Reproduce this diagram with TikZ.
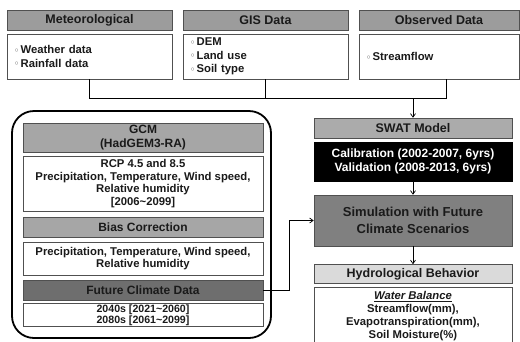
\documentclass[tikz,border=0pt]{standalone}
\usepackage{fontspec}
\setmainfont{Liberation Sans}
\newfontfamily\dejavu{DejaVu Sans}
\usetikzlibrary{arrows.meta}
\definecolor{hgray}{HTML}{9C9C9C}
\definecolor{dgray}{HTML}{6E6E6E}
\definecolor{sgray}{HTML}{808080}
\definecolor{lgray}{HTML}{DADADA}
\definecolor{edge}{HTML}{505050}
\definecolor{txt}{HTML}{1A1A1A}
\newcommand{\bul}{\hspace{3pt}{\dejavu\fontsize{8}{8}\selectfont\color{edge}\raisebox{0.5pt}{◦}}\hspace{1.5pt}}
\begin{document}
\begin{tikzpicture}[x=1pt,y=-1pt,
  every node/.style={text=txt, inner sep=2pt},
  hdr/.style={draw=edge, line width=0.6pt, fill=hgray, font=\fontsize{12.5}{14}\selectfont\bfseries},
  bodyc/.style={draw=edge, line width=0.6pt, fill=white, align=center, font=\fontsize{11.3}{12.8}\selectfont\bfseries},
  bodyl/.style={draw=edge, line width=0.6pt, fill=white, align=left, font=\fontsize{11.3}{13.5}\selectfont\bfseries},
  conn/.style={draw=black, line width=0.7pt},
  arr/.style={conn, -{Straight Barb[length=3.5pt,width=5pt]}}]
\useasboundingbox (0,0) rectangle (520,341);
% top row
\node[hdr, minimum width=165, minimum height=20] (meth) at (89.5,20) {Meteorological};
\node[bodyl, minimum width=165, minimum height=45, text width=157] (metb) at (89.5,56.5) {\bul Weather data\\\bul Rainfall data};
\node[hdr, minimum width=165, minimum height=20] (gish) at (265.5,20) {GIS Data};
\node[bodyl, minimum width=165, minimum height=45, text width=157] (gisb) at (265.5,56.5) {\bul DEM\\\bul Land use\\\bul Soil type};
\node[hdr, minimum width=160, minimum height=20] (obsh) at (439,20) {Observed Data};
\node[bodyl, minimum width=160, minimum height=45, text width=152] (obsb) at (439,56.5) {\bul Streamflow};
% right column
\node[hdr, fill=hgray!85, minimum width=198, minimum height=20] (swath) at (413,128) {SWAT Model};
\node[draw=black, fill=black, text=white, align=center, minimum width=198, minimum height=39, font=\fontsize{12}{14}\selectfont\bfseries] (calib) at (413,161.5) {Calibration (2002-2007, 6yrs)\\Validation (2008-2013, 6yrs)};
\node[hdr, fill=sgray, align=center, minimum width=198, minimum height=51, font=\fontsize{13}{17}\selectfont\bfseries] (sim) at (413,220.5) {Simulation with Future\\Climate Scenarios};
\node[hdr, fill=lgray, minimum width=198, minimum height=19] (hydh) at (413,274) {Hydrological Behavior};
\node[bodyc, minimum width=198, minimum height=58, font=\fontsize{11.3}{13}\selectfont\bfseries] (hydb) at (413,316) {\underline{\textit{Water Balance}}\\Streamflow(mm),\\Evapotranspiration(mm),\\Soil Moisture(\%)};
% left frame
\node[draw=black, line width=1.8pt, rounded corners=22pt, minimum width=259, minimum height=227] (frame) at (141.5,224.5) {};
\node[hdr, fill=hgray!90, align=center, minimum width=240, minimum height=29, font=\fontsize{12}{14}\selectfont\bfseries] (gcmh) at (143,137.5) {GCM\\(HadGEM3-RA)};
\node[bodyc, minimum width=240, minimum height=55] (gcmb) at (143,183.5) {RCP 4.5 and 8.5\\Precipitation, Temperature, Wind speed,\\Relative humidity\\{[}2006\textasciitilde 2099{]}};
\node[hdr, fill=hgray!90, minimum width=240, minimum height=20, font=\fontsize{12}{14}\selectfont\bfseries] (biash) at (143,227) {Bias Correction};
\node[bodyc, minimum width=240, minimum height=33] (biasb) at (143,258.5) {Precipitation, Temperature, Wind speed,\\Relative humidity};
\node[hdr, fill=dgray, minimum width=240, minimum height=20, font=\fontsize{12}{14}\selectfont\bfseries] (futh) at (143,290) {Future Climate Data};
\node[bodyc, inner sep=1pt, minimum width=240, minimum height=23, font=\fontsize{10.6}{10.8}\selectfont\bfseries] (futb) at (143,315) {2040s [2021\textasciitilde 2060]\\2080s [2061\textasciitilde 2099]};
% connectors
\coordinate (j1) at (89,98);
\coordinate (j3) at (446,98);
\coordinate (jm) at (413,98);
\draw[conn] (metb.south -| j1) -- (j1) -- (j3) -- (obsb.south -| j3);
\draw[conn] (gisb.south) -- (gisb.south |- j1);
\draw[arr] (jm) -- (swath.north);
\draw[arr] (calib.south) -- (sim.north);
\draw[arr] (sim.south) -- (hydh.north);
\coordinate (k1) at (289,290);
\draw[arr] (futh.east) -- (k1) |- (sim.west);
\end{tikzpicture}
\end{document}
